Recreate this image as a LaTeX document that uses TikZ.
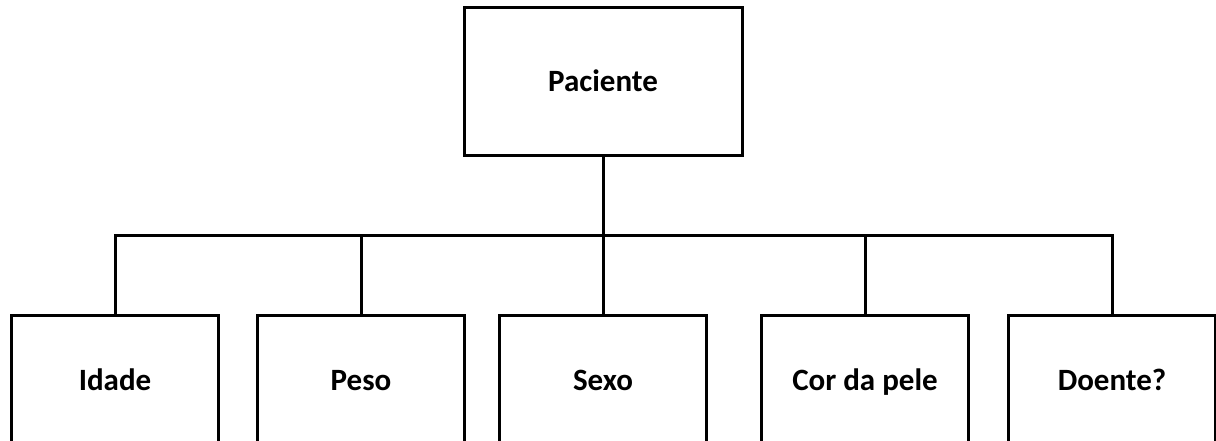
\documentclass[tikz,border=0pt]{standalone}
\usepackage{fontspec}
\setmainfont{Carlito}
\begin{document}
\begin{tikzpicture}[x=1pt,y=-1pt,
  box/.style={draw=black, line width=3pt, fill=white, font=\fontsize{31}{36}\selectfont\bfseries,
    inner sep=0pt, text height=20pt, text depth=0pt},
  topbox/.style={box, minimum width=278pt, minimum height=148pt},
  leafbox/.style={box, minimum width=207pt, minimum height=130pt},
  link/.style={line width=3pt, draw=black}]
  \useasboundingbox (0,0) rectangle (1216,441);
  \clip (0,0) rectangle (1216,441);
  % root
  \node[topbox] (root) at (603,82) {Paciente};
  % attributes
  \node[leafbox] (idade) at (115,380) {Idade};
  \node[leafbox] (peso)  at (361,380) {Peso};
  \node[leafbox] (sexo)  at (603,380) {Sexo};
  \node[leafbox] (cor)   at (865,380) {Cor da pele};
  \node[leafbox] (doente) at (1112,380) {Doente?};
  % bus between root and attributes
  \coordinate (bus) at (603,235);
  \draw[link] (root.south) -- (bus);
  \draw[link] (idade.north) |- (bus) -| (doente.north);
  \draw[link] (peso.north) -- (peso.north |- bus);
  \draw[link] (sexo.north) -- (bus);
  \draw[link] (cor.north) -- (cor.north |- bus);
\end{tikzpicture}
\end{document}
